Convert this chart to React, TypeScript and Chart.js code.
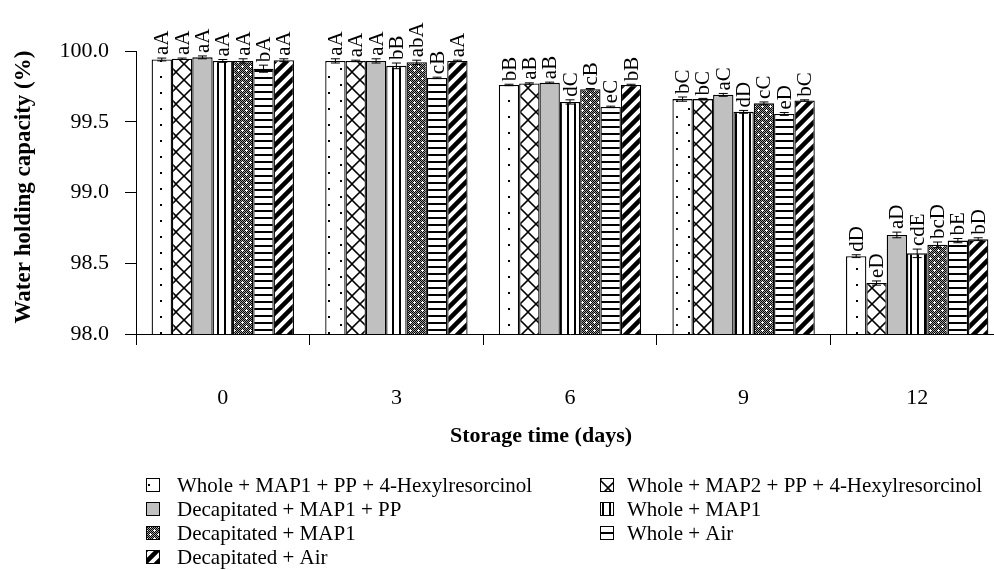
import React, { useEffect, useRef } from "react";
import { Chart, registerables } from "chart.js";

Chart.register(...registerables);

// ---------- data ----------
const categories = ["0", "3", "6", "9", "12"];

const seriesNames = [
  "Whole + MAP1 + PP + 4-Hexylresorcinol",
  "Whole + MAP2 + PP + 4-Hexylresorcinol",
  "Decapitated + MAP1 + PP",
  "Whole + MAP1",
  "Decapitated + MAP1",
  "Whole + Air",
  "Decapitated + Air",
];

const wholeMap1PP4HR = [99.94, 99.93, 99.76, 99.66, 98.55];
const wholeMap2PP4HR = [99.945, 99.93, 99.77, 99.66, 98.36];
const decapMap1PP = [99.955, 99.93, 99.775, 99.69, 98.7];
const wholeMap1 = [99.93, 99.895, 99.64, 99.57, 98.57];
const decapMap1 = [99.93, 99.92, 99.73, 99.63, 98.63];
const wholeAir = [99.875, 99.81, 99.605, 99.555, 98.66];
const decapAir = [99.935, 99.93, 99.76, 99.65, 98.67];

const errWholeMap1PP4HR = [0.01, 0.015, 0.005, 0.015, 0.01];
const errWholeMap2PP4HR = [0.005, 0.005, 0.005, 0.005, 0.015];
const errDecapMap1PP = [0.01, 0.015, 0.005, 0.01, 0.02];
const errWholeMap1 = [0.01, 0.02, 0.015, 0.01, 0.03];
const errDecapMap1 = [0.015, 0.015, 0.005, 0.01, 0.02];
const errWholeAir = [0.025, 0.005, 0.005, 0.01, 0.015];
const errDecapAir = [0.01, 0.005, 0.005, 0.005, 0.01];

const lblWholeMap1PP4HR = ["aA", "aA", "bB", "bC", "dD"];
const lblWholeMap2PP4HR = ["aA", "aA", "aB", "bC", "eD"];
const lblDecapMap1PP = ["aA", "aA", "aB", "aC", "aD"];
const lblWholeMap1 = ["aA", "bB", "dC", "dD", "cdE"];
const lblDecapMap1 = ["aA", "abA", "cB", "cC", "bcD"];
const lblWholeAir = ["bA", "cB", "eC", "eD", "bE"];
const lblDecapAir = ["aA", "aA", "bB", "bC", "bD"];

const yTickValues = [98.0, 98.5, 99.0, 99.5, 100.0];

const seriesValues = [wholeMap1PP4HR, wholeMap2PP4HR, decapMap1PP, wholeMap1, decapMap1, wholeAir, decapAir];
const seriesErrors = [errWholeMap1PP4HR, errWholeMap2PP4HR, errDecapMap1PP, errWholeMap1, errDecapMap1, errWholeAir, errDecapAir];
const seriesLetters = [lblWholeMap1PP4HR, lblWholeMap2PP4HR, lblDecapMap1PP, lblWholeMap1, lblDecapMap1, lblWholeAir, lblDecapAir];
const patternKinds = ["dots", "lattice", "gray", "vstripes", "checker", "hstripes", "diag"];

const FONT = "'Liberation Serif', 'Times New Roman', serif";

// ---------- patterns ----------
function makePattern(kind: string): CanvasPattern | string {
  const c = document.createElement("canvas");
  const g = c.getContext("2d") as CanvasRenderingContext2D;
  if (kind === "gray") return "#c0c0c0";
  if (kind === "dots") {
    c.width = 24; c.height = 16;
    g.fillStyle = "#fff"; g.fillRect(0, 0, 24, 16);
    g.fillStyle = "#000";
    g.fillRect(4, 4, 2, 2);
    g.fillRect(16, 12, 2, 2);
  } else if (kind === "lattice") {
    c.width = 16; c.height = 16;
    g.fillStyle = "#fff"; g.fillRect(0, 0, 16, 16);
    g.strokeStyle = "#000"; g.lineWidth = 1.6;
    g.beginPath();
    g.moveTo(0, 8); g.lineTo(8, 0); g.lineTo(16, 8); g.lineTo(8, 16); g.closePath();
    g.stroke();
  } else if (kind === "vstripes") {
    c.width = 7; c.height = 4;
    g.fillStyle = "#fff"; g.fillRect(0, 0, 7, 4);
    g.fillStyle = "#000"; g.fillRect(0, 0, 2, 4);
  } else if (kind === "hstripes") {
    c.width = 4; c.height = 7;
    g.fillStyle = "#fff"; g.fillRect(0, 0, 4, 7);
    g.fillStyle = "#000"; g.fillRect(0, 0, 4, 2);
  } else if (kind === "checker") {
    c.width = 8; c.height = 8;
    for (let x = 0; x < 8; x++) {
      for (let y = 0; y < 8; y++) {
        g.fillStyle = (x + y) % 2 === 0 ? "#000" : "#9a9a9a";
        g.fillRect(x, y, 1, 1);
      }
    }
    g.fillStyle = "#fff";
    g.fillRect(2, 1, 1, 3); g.fillRect(1, 2, 3, 1);
    g.fillRect(6, 5, 1, 3); g.fillRect(5, 6, 3, 1);
  } else if (kind === "diag") {
    c.width = 12; c.height = 12;
    g.fillStyle = "#fff"; g.fillRect(0, 0, 12, 12);
    g.strokeStyle = "#000"; g.lineWidth = 4.5;
    g.beginPath();
    g.moveTo(-2, 14); g.lineTo(14, -2);
    g.moveTo(-8, 8); g.lineTo(8, -8);
    g.moveTo(4, 20); g.lineTo(20, 4);
    g.stroke();
  }
  return g.createPattern(c, "repeat") as CanvasPattern;
}

// ---------- plugin ----------
const decorPlugin = {
  id: "decor",
  afterDatasetsDraw(chart: any) {
    const ctx: CanvasRenderingContext2D = chart.ctx;
    const yScale = chart.scales.y;
    ctx.save();
    chart.data.datasets.forEach((ds: any, di: number) => {
      const meta = chart.getDatasetMeta(di);
      meta.data.forEach((bar: any, i: number) => {
        const v = ds.data[i];
        const e = seriesErrors[di][i];
        const x = bar.x;
        const yTop = yScale.getPixelForValue(v + e);
        const yBot = yScale.getPixelForValue(v - e);
        ctx.strokeStyle = "#000";
        ctx.lineWidth = 1;
        ctx.beginPath();
        ctx.moveTo(x, yTop); ctx.lineTo(x, yBot);
        ctx.moveTo(x - 4.5, yTop); ctx.lineTo(x + 4.5, yTop);
        ctx.moveTo(x - 4.5, yBot); ctx.lineTo(x + 4.5, yBot);
        ctx.stroke();
        // letters
        ctx.save();
        ctx.translate(x + 1, yTop - 3);
        ctx.rotate(-Math.PI / 2);
        ctx.font = `21px ${FONT}`;
        ctx.fillStyle = "#000";
        ctx.textAlign = "left";
        ctx.textBaseline = "middle";
        ctx.fillText(seriesLetters[di][i], 0, 0);
        ctx.restore();
      });
    });
    ctx.restore();
  },
  afterDraw(chart: any) {
    const ctx: CanvasRenderingContext2D = chart.ctx;
    ctx.save();
    ctx.fillStyle = "#000";
    // y title
    ctx.save();
    ctx.translate(24, 187);
    ctx.rotate(-Math.PI / 2);
    ctx.font = `bold 23px ${FONT}`;
    ctx.textAlign = "center";
    ctx.textBaseline = "middle";
    ctx.fillText("Water holding capacity (%)", 0, 0);
    ctx.restore();
    // x title
    ctx.font = `bold 22px ${FONT}`;
    ctx.textAlign = "center";
    ctx.textBaseline = "middle";
    ctx.fillText("Storage time (days)", 541, 436);
    // legend
    const cols = [
      { x: 146, tx: 177, items: [0, 2, 4, 6] },
      { x: 600, tx: 627, items: [1, 3, 5] },
    ];
    const rowY = [485, 509, 533, 557];
    ctx.font = `21px ${FONT}`;
    ctx.textAlign = "left";
    cols.forEach((col) => {
      col.items.forEach((di, r) => {
        const ds = chart.data.datasets[di];
        const y = rowY[r];
        ctx.fillStyle = ds.backgroundColor;
        ctx.fillRect(col.x, y - 7, 14, 14);
        ctx.strokeStyle = "#000";
        ctx.lineWidth = 1;
        ctx.strokeRect(col.x + 0.5, y - 6.5, 13, 13);
        ctx.fillStyle = "#000";
        ctx.fillText(ds.label, col.tx, y + 1);
      });
    });
    ctx.restore();
  },
};

export default function App() {
  const ref = useRef<HTMLCanvasElement | null>(null);
  useEffect(() => {
    if (!ref.current) return;
    const datasets = seriesNames.map((name, i) => ({
      label: name,
      data: seriesValues[i],
      backgroundColor: makePattern(patternKinds[i]) as any,
      borderColor: "#000",
      borderWidth: 1.3,
      categoryPercentage: 0.82,
      barPercentage: 1.0,
    }));
    const chart = new Chart(ref.current, {
      type: "bar",
      data: { labels: categories, datasets },
      options: {
        responsive: false,
        animation: false,
        devicePixelRatio: 1,
        layout: { padding: { top: 51, right: 6, left: 0, bottom: 0 } },
        plugins: {
          legend: { display: false },
          tooltip: { enabled: false },
          title: { display: false },
        },
        scales: {
          x: {
            grid: { display: true, drawOnChartArea: false, drawTicks: true, tickLength: 11, color: "#000", offset: true },
            border: { display: true, color: "#000", width: 1 },
            ticks: { color: "#000", font: { family: FONT, size: 22 }, padding: 40, maxRotation: 0 },
            afterFit: (s: any) => { s.height = 236; },
          },
          y: {
            min: 98,
            max: 100,
            afterBuildTicks: (s: any) => { s.ticks = yTickValues.map((v) => ({ value: v })); },
            grid: { display: true, drawOnChartArea: false, drawTicks: true, tickLength: 11, color: "#000" },
            border: { display: true, color: "#000", width: 1 },
            ticks: {
              color: "#000",
              font: { family: FONT, size: 22 },
              padding: 16,
              callback: (v: any) => Number(v).toFixed(1),
            },
            afterFit: (s: any) => { s.width = 136; },
          },
        },
      },
      plugins: [decorPlugin],
    });
    return () => chart.destroy();
  }, []);
  return (
    <div style={{ position: "absolute", left: 0, top: 0, width: 994, height: 570, overflow: "hidden", background: "#fff" }}>
      <canvas ref={ref} width={1010} height={570} style={{ display: "block" }} />
    </div>
  );
}
